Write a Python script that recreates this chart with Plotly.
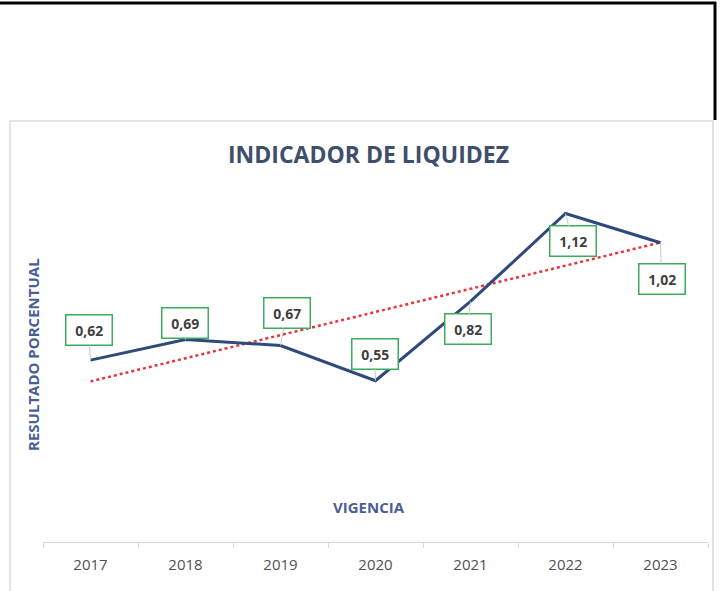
import numpy as np
import plotly.graph_objects as go

years = ["2017", "2018", "2019", "2020", "2021", "2022", "2023"]
values = [0.62, 0.69, 0.67, 0.55, 0.82, 1.12, 1.02]
labels = ["0,62", "0,69", "0,67", "0,55", "0,82", "1,12", "1,02"]
title_text = "INDICADOR DE LIQUIDEZ"
x_title = "VIGENCIA"
y_title = "RESULTADO PORCENTUAL"

W, H = 720, 591

# linear trendline (as Excel)
xi = np.arange(len(values))
slope, intercept = np.polyfit(xi, values, 1)
trend = [intercept + slope * i for i in xi]

fig = go.Figure()
fig.add_trace(go.Scatter(x=years, y=trend, mode="lines",
                         line=dict(color="#E8343A", width=2.5, dash="dot"),
                         hoverinfo="skip"))
fig.add_trace(go.Scatter(x=years, y=values, mode="lines",
                         line=dict(color="#2E4A7D", width=3)))

# label offsets (pixels)
offs = [(-2, -30), (-1, -17), (6, -32), (-1, -27), (-3, 28), (7, 28), (1, 36)]
for i, (v, lab, (ax, ay)) in enumerate(zip(values, labels, offs)):
    fig.add_annotation(x=i, y=v, text="&nbsp;<b>" + lab + "</b>&nbsp;",
                       showarrow=True,
                       arrowhead=0, arrowwidth=1, arrowcolor="#C8C8C8",
                       ax=ax, ay=ay, standoff=0,
                       font=dict(family="Open Sans", size=14, color="#404040"),
                       bgcolor="white", bordercolor="#3DAA5C", borderwidth=1.5,
                       borderpad=5)

x0 = 43 / W
x1 = 708 / W
y0 = 1 - 542 / H
y1 = 1 - 190 / H

fig.update_layout(
    width=W, height=H,
    margin=dict(l=0, r=0, t=0, b=0),
    paper_bgcolor="white", plot_bgcolor="white",
    showlegend=False,
    xaxis=dict(domain=[x0, x1], type="category", range=[-0.5, 6.5],
               showgrid=False, zeroline=False, showline=True,
               linecolor="#D9D9D9", linewidth=1,
               ticks="outside", ticklen=5, tickcolor="#D9D9D9",
               tickson="boundaries", ticklabelstandoff=9,
               tickfont=dict(family="Open Sans", size=15, color="#505050")),
    yaxis=dict(domain=[y0, y1], range=[0, 1.2], showgrid=False,
               zeroline=False, showline=False, showticklabels=False),
)

# titles
fig.add_annotation(xref="paper", yref="paper", x=368 / W, y=1 - 154 / H,
                   xanchor="center", yanchor="middle",
                   text="<b>" + title_text + "</b>", showarrow=False,
                   font=dict(family="Open Sans", size=23, color="#3F4E6B"))
fig.add_annotation(xref="paper", yref="paper", x=369 / W, y=1 - 507 / H,
                   xanchor="center", yanchor="middle",
                   text="<b>" + x_title + "</b>", showarrow=False,
                   font=dict(family="Open Sans", size=15, color="#4A5E96"))
fig.add_annotation(xref="paper", yref="paper", x=33 / W, y=1 - 355 / H,
                   xanchor="center", yanchor="middle",
                   text="<b>" + y_title + "</b>", showarrow=False, textangle=-90,
                   font=dict(family="Open Sans", size=15, color="#4A5E96"))

# frame lines
fig.add_shape(type="line", xref="paper", yref="paper", x0=0, x1=716 / W,
              y0=1 - 3 / H, y1=1 - 3 / H, line=dict(color="black", width=3))
fig.add_shape(type="line", xref="paper", yref="paper", x0=715 / W, x1=715 / W,
              y0=1 - 2 / H, y1=1 - 120 / H, line=dict(color="black", width=3))
fig.add_shape(type="rect", xref="paper", yref="paper", x0=10 / W, x1=713 / W,
              y0=-0.01, y1=1 - 121 / H, line=dict(color="#DADADA", width=1.5))

fig.write_html("out.html", config={"displayModeBar": False},
               post_script="document.body.style.margin='0';document.body.style.padding='0';")
